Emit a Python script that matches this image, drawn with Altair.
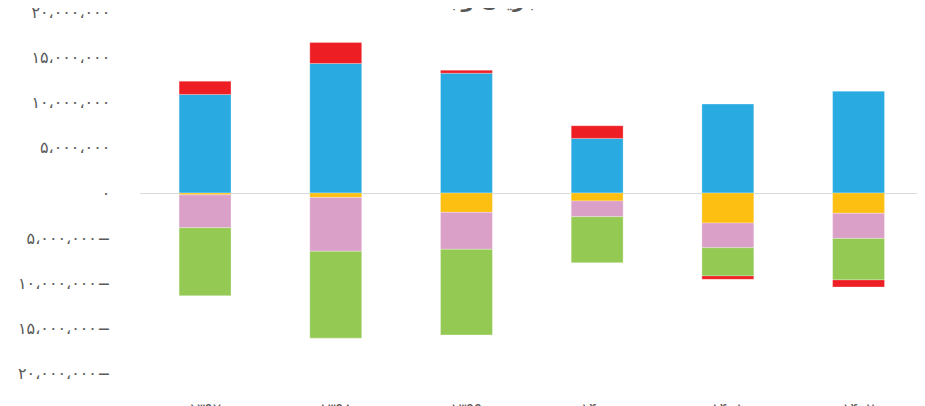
import altair as alt
import pandas as pd

# Categories (fiscal years) and series
years = ["۱۳۹۷", "۱۳۹۸", "۱۳۹۹", "۱۴۰۰", "۱۴۰۱", "۱۴۰۲"]
series_names = ["جریان نقد عملیاتی", "مالیات", "سرمایه‌گذاری", "تأمین مالی", "تغییر در وجه نقد"]
series_colors = ["#29abe2", "#fcbf12", "#dba0c8", "#94c954", "#ed1f24"]

operating = [10920000, 14350000, 13270000, 6050000, 9850000, 11280000]
tax = [-200000, -480000, -2140000, -880000, -3320000, -2240000]
investing = [-3640000, -5970000, -4090000, -1740000, -2730000, -2780000]
financing = [-7520000, -9620000, -9480000, -5090000, -3130000, -4600000]
net_change = [1470000, 2320000, 330000, 1400000, -370000, -780000]

y_tick_values = [20000000, 15000000, 10000000, 5000000, 0,
                 -5000000, -10000000, -15000000, -20000000]
y_tick_labels = ["۲۰،۰۰۰،۰۰۰", "۱۵،۰۰۰،۰۰۰", "۱۰،۰۰۰،۰۰۰", "۵،۰۰۰،۰۰۰", "۰",
                 "۵،۰۰۰،۰۰۰−", "۱۰،۰۰۰،۰۰۰−", "۱۵،۰۰۰،۰۰۰−", "۲۰،۰۰۰،۰۰۰−"]

title_text = "جریان وجه نقد"

all_series = [operating, tax, investing, financing, net_change]
rows = []
for i, yr in enumerate(years):
    for k, (name, vals) in enumerate(zip(series_names, all_series)):
        rows.append({"year": yr, "series": name, "value": vals[i], "order": k})
df = pd.DataFrame(rows)

label_expr = "''"
for v, lab in reversed(list(zip(y_tick_values, y_tick_labels))):
    label_expr = f"datum.value == {v} ? '{lab}' : ({label_expr})"

FONT = "DejaVu Sans"
GRAY = "#595959"

bars = alt.Chart(df).mark_bar(stroke="white", strokeWidth=0.8, strokeOpacity=0.35).encode(
    x=alt.X(
        "year:N", sort=years,
        scale=alt.Scale(paddingInner=0.603, paddingOuter=0.275, align=0.548),
        axis=alt.Axis(title=None, labelAngle=0, domain=False, ticks=False,
                      labelPadding=28, labelFontSize=15, labelColor=GRAY, labelFont=FONT),
    ),
    y=alt.Y(
        "value:Q", stack="zero",
        scale=alt.Scale(domain=[-20000000, 20000000], nice=False),
        axis=alt.Axis(
            title=None, values=y_tick_values, labelExpr=label_expr,
            domain=False, ticks=False, labelPadding=30, labelFontSize=16,
            labelColor=GRAY, labelFont=FONT,
            grid=True,
            gridColor="#d9d9d9",
            gridWidth=1,
            gridOpacity=alt.condition("datum.value == 0", alt.value(1), alt.value(0)),
        ),
    ),
    color=alt.Color("series:N", scale=alt.Scale(domain=series_names, range=series_colors), legend=None),
    order=alt.Order("order:Q"),
)

chart = bars.properties(
    width=779,
    height=362,
    title=alt.Title(title_text, fontSize=20, fontWeight="bold", color=GRAY, font=FONT,
                    anchor="middle", frame="bounds", baseline="alphabetic", offset=0, dy=23),
    autosize=alt.AutoSizeParams(type="none"),
    padding={"left": 132, "top": 4, "right": 0, "bottom": 50},
).configure_view(stroke=None)

chart.save("out.html", embed_options={"renderer": "svg", "actions": False})
